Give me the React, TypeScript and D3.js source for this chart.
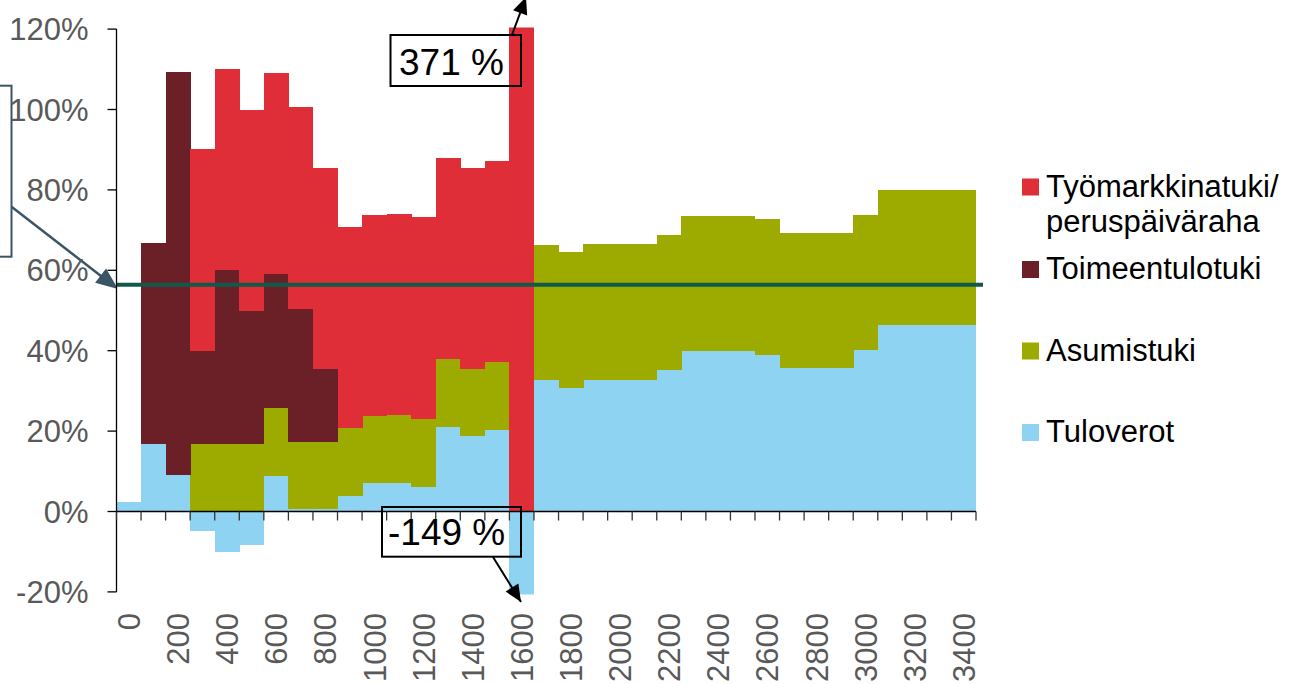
import * as d3 from 'd3'

// Tulotaso (€/kk)
const incomes = [
  '0', '100', '200', '300', '400', '500', '600', '700', '800', '900',
  '1000', '1100', '1200', '1300', '1400', '1500', '1600', '1700', '1800', '1900',
  '2000', '2100', '2200', '2300', '2400', '2500', '2600', '2700', '2800', '2900',
  '3000', '3100', '3200', '3300', '3400',
]
const tickLabels = ['0', '200', '400', '600', '800', '1000', '1200', '1400', '1600', '1800',
  '2000', '2200', '2400', '2600', '2800', '3000', '3200', '3400']
const yTicks = [-20, 0, 20, 40, 60, 80, 100, 120]

// effektiivinen rajaveroaste, osuudet %
const tuloverot = [2.3, 16.7, 9.1, -4.8, -10.0, -8.3, 8.8, 0.5, 0.5, 3.9, 7.0, 7.2, 6.2, 21.1, 18.7, 20.3, -149,
  32.7, 30.8, 32.8, 32.8, 32.8, 35.1, 39.9, 39.9, 39.9, 38.9, 35.7, 35.7, 35.7, 40.1, 46.4, 46.4, 46.4, 46.4]
const asumistuki = [0, 0, 0, 16.7, 16.7, 16.7, 16.9, 16.8, 16.8, 16.9, 16.8, 16.8, 16.8, 16.8, 16.7, 16.8, 0,
  33.6, 33.7, 33.7, 33.7, 33.7, 33.7, 33.6, 33.6, 33.6, 33.8, 33.7, 33.7, 33.7, 33.6, 33.6, 33.6, 33.6, 33.6]
const toimeentulotuki = [0, 50.1, 100.3, 23.3, 43.3, 33.3, 33.3, 33.1, 18.1, 0, 0, 0, 0, 0, 0, 0, 0,
  0, 0, 0, 0, 0, 0, 0, 0, 0, 0, 0, 0, 0, 0, 0, 0, 0, 0]
const tyomarkkinatuki = [0, 0, 0, 50.1, 50, 50, 50.1, 50.2, 50, 50, 50, 50.1, 50.2, 50.1, 50.1, 50.1, 371,
  0, 0, 0, 0, 0, 0, 0, 0, 0, 0, 0, 0, 0, 0, 0, 0, 0, 0]
const keskiarvo = 56.4

const seriesKeys = ['tuloverot', 'asumistuki', 'toimeentulotuki', 'tyomarkkinatuki']
const seriesColors: Record<string, string> = {
  tuloverot: '#8fd3f3',
  asumistuki: '#9dab00',
  toimeentulotuki: '#6b1f27',
  tyomarkkinatuki: '#e02e39',
}
const legend = [
  { key: 'tyomarkkinatuki', lines: ['Työmarkkinatuki/', 'peruspäiväraha'], y: 196.5 },
  { key: 'toimeentulotuki', lines: ['Toimeentulotuki'], y: 279 },
  { key: 'asumistuki', lines: ['Asumistuki'], y: 360.5 },
  { key: 'tuloverot', lines: ['Tuloverot'], y: 442 },
]

const W = 1291
const H = 684
const FONT = 'Arial, "Liberation Sans", sans-serif'

function arrowHead(x1: number, y1: number, x2: number, y2: number, len: number, half: number) {
  const dx = x2 - x1
  const dy = y2 - y1
  const d = Math.hypot(dx, dy)
  const ux = dx / d
  const uy = dy / d
  const bx = x2 - ux * len
  const by = y2 - uy * len
  return `M${x2},${y2}L${bx - uy * half},${by + ux * half}L${bx + uy * half},${by - ux * half}Z`
}

export default function App() {
  const table = incomes.map((c, i) => ({
    income: c,
    tuloverot: tuloverot[i],
    asumistuki: asumistuki[i],
    toimeentulotuki: toimeentulotuki[i],
    tyomarkkinatuki: tyomarkkinatuki[i],
  }))

  const x = d3.scaleBand<string>().domain(incomes).range([116.5, 976]).padding(0)
  const y = d3.scaleLinear().domain([-20, 120]).range([591.9, 29.1])

  const stacked = d3.stack<any>()
    .keys(seriesKeys)
    .offset(d3.stackOffsetDiverging)(table)

  const bw = x.bandwidth()
  const boundaries = incomes.map(c => x(c)!).concat([x.range()[1]])
  const x0 = x.range()[0]
  const x1 = x.range()[1]

  // annotation arrows
  const topArrow = { x1: 512, y1: 35, x2: 526, y2: -3 }
  const botArrow = { x1: 493, y1: 557, x2: 521, y2: 602 }
  const leftArrow = { x1: 11.5, y1: 206.7, x2: 118, y2: 289 }

  return (
    <div style={{ position: 'fixed', left: 0, top: 0 }}>
      <svg width={W} height={H} style={{ display: 'block', background: '#fff' }} fontFamily={FONT}>
        <defs>
          <clipPath id="plot">
            <rect x={x0} y={27.5} width={x1 - x0} height={567} />
          </clipPath>
          <clipPath id="leftOfAxis">
            <rect x={0} y={0} width={x0} height={H} />
          </clipPath>
        </defs>

        {/* left annotation */}
        <g clipPath="url(#leftOfAxis)" stroke="#3b5566" fill="none">
          <rect x={-20} y={85.7} width={31.5} height={171} strokeWidth={2} />
          <line x1={leftArrow.x1} y1={leftArrow.y1} x2={leftArrow.x2 - 8} y2={leftArrow.y2 - 6} strokeWidth={2.5} />
          <path d={arrowHead(leftArrow.x1, leftArrow.y1, leftArrow.x2, leftArrow.y2, 22, 9)} fill="#3b5566" stroke="none" />
        </g>

        {/* bars */}
        <g clipPath="url(#plot)" shapeRendering="crispEdges">
          {stacked.map(s => (
            <g key={s.key} fill={seriesColors[s.key]}>
              {s.map((d, i) => {
                const top = Math.max(d[0], d[1])
                const bot = Math.min(d[0], d[1])
                if (top - bot <= 0) return null
                return (
                  <rect
                    key={i}
                    x={x(incomes[i])}
                    width={bw + 0.5}
                    y={y(top)}
                    height={y(bot) - y(top)}
                  />
                )
              })}
            </g>
          ))}
        </g>

        {/* average line */}
        <line x1={x0} x2={983} y1={y(keskiarvo)} y2={y(keskiarvo)} stroke="#0f5a4a" strokeWidth={4} />

        {/* y axis */}
        <line x1={x0} x2={x0} y1={y(120)} y2={y(-20)} stroke="#000" strokeWidth={1.3} />
        {yTicks.map(t => (
          <g key={t}>
            <line x1={x0 - 9} x2={x0} y1={y(t)} y2={y(t)} stroke="#000" strokeWidth={1.3} />
            <text x={88.5} y={y(t)} dy="0.36em" textAnchor="end" fontSize={31} fill="#595959">{t}%</text>
          </g>
        ))}

        {/* x axis */}
        <line x1={x0} x2={x1} y1={y(0)} y2={y(0)} stroke="#000" strokeWidth={1.3} />
        {boundaries.map((b, i) => (
          <line key={i} x1={b} x2={b} y1={y(0)} y2={y(0) + 9} stroke="#333" strokeWidth={1.3} />
        ))}
        {tickLabels.map(l => (
          <text
            key={l}
            transform={`translate(${x(l)! + bw / 2},613) rotate(-90)`}
            dy="0.36em"
            textAnchor="end"
            fontSize={31}
            fill="#595959"
          >{l}</text>
        ))}

        {/* value callouts */}
        <rect x={390.5} y={35} width={130.5} height={51} fill="none" stroke="#000" strokeWidth={2} />
        <text x={399} y={75} fontSize={37} fill="#000">371 %</text>
        <line x1={topArrow.x1} y1={topArrow.y1} x2={topArrow.x2} y2={topArrow.y2} stroke="#000" strokeWidth={2} />
        <path d={arrowHead(topArrow.x1, topArrow.y1, topArrow.x2, topArrow.y2, 17, 7.5)} fill="#000" />

        <rect x={382} y={507} width={139} height={49.7} fill="none" stroke="#000" strokeWidth={2} />
        <text x={388} y={545} fontSize={37} fill="#000">-149 %</text>
        <line x1={botArrow.x1} y1={botArrow.y1} x2={botArrow.x2} y2={botArrow.y2} stroke="#000" strokeWidth={2} />
        <path d={arrowHead(botArrow.x1, botArrow.y1, botArrow.x2, botArrow.y2, 17, 7.5)} fill="#000" />

        {/* legend */}
        {legend.map(l => (
          <g key={l.key}>
            <rect x={1022} y={l.y - 18} width={17} height={17} fill={seriesColors[l.key]} />
            {l.lines.map((t, j) => (
              <text key={j} x={1046} y={l.y + j * 35} fontSize={31} fill="#000">{t}</text>
            ))}
          </g>
        ))}
      </svg>
    </div>
  )
}
